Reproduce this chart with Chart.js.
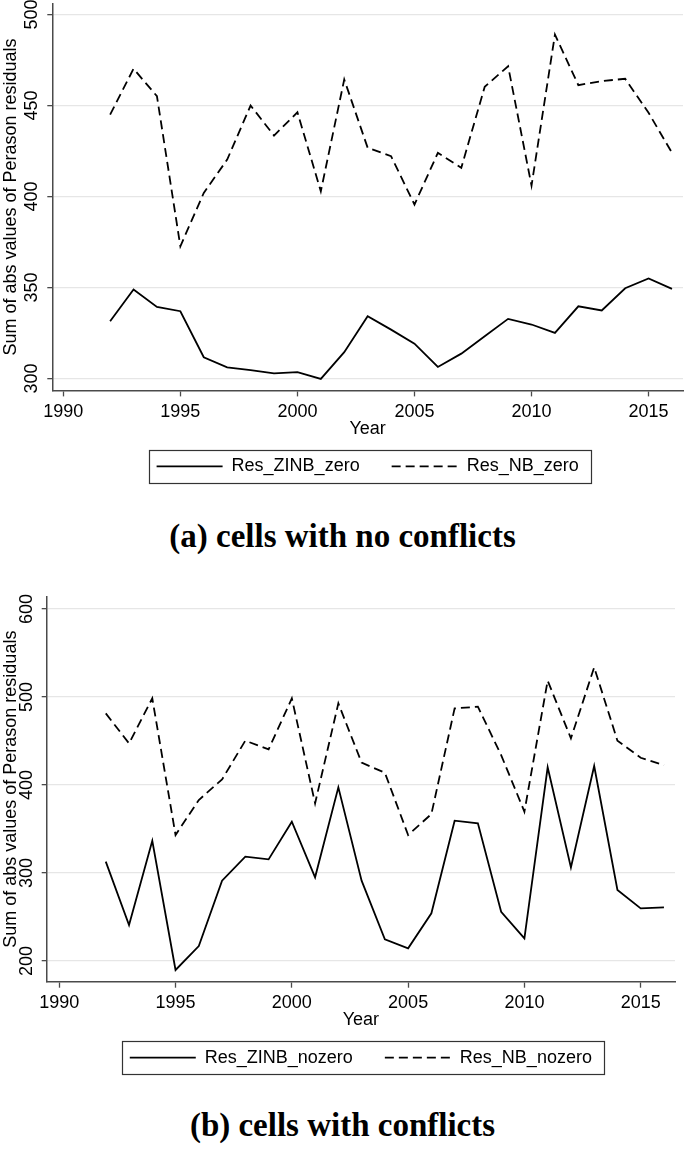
<!DOCTYPE html>
<html lang="en">
<head>
    <meta charset="UTF-8">
    <title>Residuals</title>
    <style>
        body { margin: 0; background: #fff; }
        #page { position: relative; width: 685px; height: 1149px; }
        canvas { position: absolute; left: 0; }
        .caption { position: absolute; left: 0; width: 685px; text-align: center; line-height: 38px;
                   font-family: "Liberation Serif", "Times New Roman", serif; font-weight: bold; font-size: 33px; color: #000; }
    </style>
</head>
<body>
<div id="page">
    <canvas id="grafico1" width="685" height="501" style="top:0px"></canvas>
    <div class="caption" style="top:517px">(a) cells with no conflicts</div>
    <canvas id="grafico2" width="685" height="512" style="top:580px"></canvas>
    <div class="caption" style="top:1106px">(b) cells with conflicts</div>
</div>

<script src="https://cdn.jsdelivr.net/npm/chart.js"></script>
<script type="text/javascript">
    // values
    var years = [1992, 1993, 1994, 1995, 1996, 1997, 1998, 1999, 2000, 2001, 2002, 2003, 2004,
                 2005, 2006, 2007, 2008, 2009, 2010, 2011, 2012, 2013, 2014, 2015, 2016];
    var zinbZero = [331.5, 348.9, 339.4, 337.0, 311.7, 306.2, 304.6, 302.9, 303.5, 299.8, 314.5, 334.2, 326.9,
                    319.2, 306.4, 313.7, 323.2, 332.8, 329.7, 325.1, 339.7, 337.4, 349.6, 355.0, 349.3];
    var nbZero = [445.0, 470.2, 455.1, 372.7, 402.0, 420.3, 450.0, 433.5, 446.3, 402.9, 464.3, 426.8, 422.2,
                  395.6, 424.0, 415.8, 460.3, 471.6, 406.0, 489.0, 461.2, 463.4, 464.7, 446.0, 424.0];
    var zinbNozero = [312.9, 240.9, 336.7, 189.8, 217.0, 291.3, 318.6, 315.5, 358.3, 295.1, 397.3, 291.3, 224.6,
                      214.4, 254.2, 359.5, 356.4, 256.0, 225.8, 420.1, 306.4, 421.6, 280.7, 259.8, 261.0];
    var nbNozero = [481.4, 447.3, 498.5, 343.2, 383.0, 406.4, 450.4, 440.5, 498.5, 379.2, 492.8, 425.4, 414.0,
                    343.2, 367.0, 487.1, 489.0, 434.0, 369.7, 518.6, 453.0, 533.7, 450.4, 431.0, 422.7];

    var yearTicks = [1990, 1995, 2000, 2005, 2010, 2015];
    var yTicks1 = [300, 350, 400, 450, 500];
    var yTicks2 = [200, 300, 400, 500, 600];
    var labels1 = ['Res_ZINB_zero', 'Res_NB_zero'];
    var labels2 = ['Res_ZINB_nozero', 'Res_NB_nozero'];
    var yTitle = 'Sum of abs values of Perason residuals';
    var xTitle = 'Year';

    var FONT = '"Liberation Sans", Arial, sans-serif';
    var AXIS = '#4a4a4a';

    function pts(xs, ys) {
        return xs.map(function (x, i) { return {x: x, y: ys[i]}; });
    }

    // put the legend under the plot region (not the whole canvas) and frame it, Stata style
    var legendFrame = {
        id: 'legendFrame',
        afterLayout: function (chart) {
            var lg = chart.legend, area = chart.chartArea;
            lg.left = area.left;
            lg.right = area.right;
            lg.width = area.right - area.left;
            lg.top = area.bottom + 35;
            lg.bottom = lg.top + lg.height;
        },
        afterDraw: function (chart) {
            var lg = chart.legend, ctx = chart.ctx;
            var pad = lg.options.labels.padding;
            var content = lg.lineWidths[0] - pad;
            var start = (lg.left + pad + lg.right - lg.lineWidths[0]) / 2;
            var cy = lg.top + pad + 9;
            ctx.save();
            ctx.strokeStyle = '#333';
            ctx.lineWidth = 1.2;
            ctx.strokeRect(Math.round(start - 8) + 0.5, Math.round(cy - 16.5) + 0.5, Math.round(content + 20), 33);
            ctx.restore();
        }
    };

    function drawChart(elemento, serie1, serie2, nombres, yTicks, yMin, yMax, xMin, xMax, pad, titlePadB) {
        var Canvas = document.getElementById(elemento);
        var data = {
            datasets: [{
                label: nombres[0],
                data: pts(years, serie1),
                borderColor: '#000',
                borderWidth: 1.8,
                borderDash: [],
                pointRadius: 0,
                tension: 0,
                fill: false
            }, {
                label: nombres[1],
                data: pts(years, serie2),
                borderColor: '#000',
                borderWidth: 1.8,
                borderDash: [9, 5],
                pointRadius: 0,
                tension: 0,
                fill: false
            }]
        };
        var chartOptions = {
            responsive: false,
            animation: false,
            events: [],
            layout: { padding: pad },
            plugins: {
                tooltip: { enabled: false },
                title: { display: false },
                legend: {
                    display: true,
                    position: 'bottom',
                    labels: {
                        usePointStyle: true,
                        pointStyleWidth: 66,
                        padding: 32,
                        color: '#000',
                        font: { family: FONT, size: 18 },
                        generateLabels: function (chart) {
                            return chart.data.datasets.map(function (ds, i) {
                                return {
                                    text: ds.label,
                                    fontColor: '#000',
                                    fillStyle: ds.borderColor,
                                    strokeStyle: ds.borderColor,
                                    lineWidth: ds.borderWidth,
                                    lineDash: ds.borderDash,
                                    lineCap: 'butt',
                                    pointStyle: 'line',
                                    hidden: false,
                                    datasetIndex: i
                                };
                            });
                        }
                    }
                }
            },
            scales: {
                x: {
                    type: 'linear',
                    min: xMin,
                    max: xMax,
                    afterBuildTicks: function (scale) {
                        scale.ticks = yearTicks.map(function (v) { return {value: v}; });
                    },
                    ticks: {
                        color: '#000',
                        padding: 5,
                        maxRotation: 0,
                        font: { family: FONT, size: 18 },
                        callback: function (v) { return String(v); }
                    },
                    grid: { drawOnChartArea: false, drawTicks: true, tickLength: 6, tickColor: AXIS, tickWidth: 1.3 },
                    border: { display: true, color: AXIS, width: 1.5 },
                    title: {
                        display: true,
                        text: xTitle,
                        color: '#000',
                        font: { family: FONT, size: 18 },
                        padding: { top: -9.6, bottom: 0 }
                    }
                },
                y: {
                    type: 'linear',
                    min: yMin,
                    max: yMax,
                    afterBuildTicks: function (scale) {
                        scale.ticks = yTicks.map(function (v) { return {value: v}; });
                    },
                    ticks: {
                        color: '#000',
                        padding: 0,
                        minRotation: 90,
                        maxRotation: 90,
                        crossAlign: 'center',
                        font: { family: FONT, size: 18, lineHeight: 0.4 },
                        callback: function (v) { return String(v); }
                    },
                    grid: { color: '#e6e6e6', lineWidth: 1.3, drawTicks: true, tickLength: 5, tickColor: AXIS, tickWidth: 1.3 },
                    border: { display: true, color: AXIS, width: 1.5 },
                    title: {
                        display: true,
                        text: yTitle,
                        color: '#000',
                        font: { family: FONT, size: 18 },
                        padding: { top: 0, bottom: titlePadB }
                    }
                }
            }
        };
        return new Chart(Canvas, {
            type: 'line',
            data: data,
            options: chartOptions,
            plugins: [legendFrame]
        });
    }

    var grafico1 = drawChart('grafico1', zinbZero, nbZero, labels1, yTicks1, 293.5, 506, 1989.53, 2016.47,
        { top: 3.5, right: 2, bottom: 1, left: 0 }, 18.5);
    var grafico2 = drawChart('grafico2', zinbNozero, nbNozero, labels2, yTicks2, 176.5, 614, 1989.46, 2016.475,
        { top: 16.7, right: 10, bottom: 0.7, left: 0 }, 12.9);
</script>
</body>
</html>
